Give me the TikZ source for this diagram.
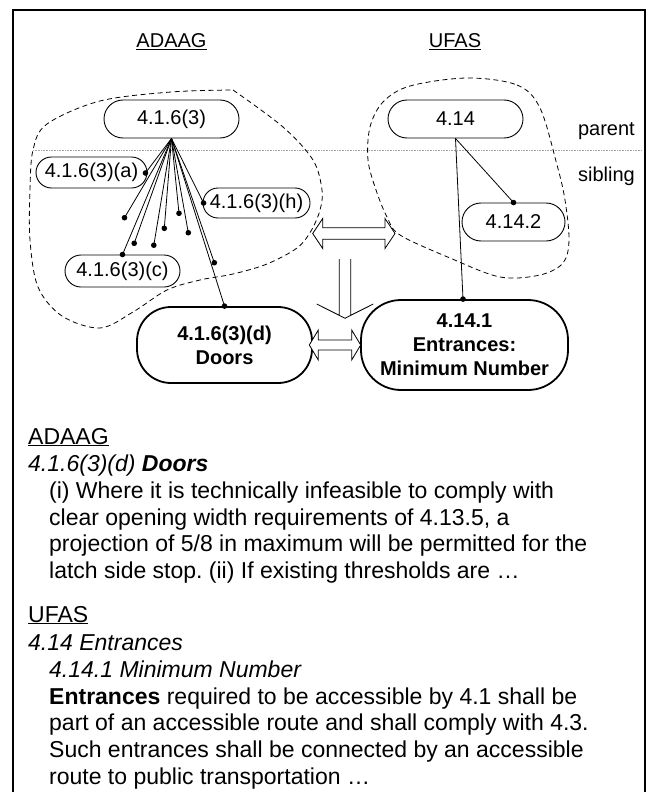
\documentclass[tikz,border=0pt]{standalone}
\usepackage{fontspec}
\setmainfont{Liberation Sans}
\usetikzlibrary{calc}
\frenchspacing
\newcommand\NdFont{\fontsize{20}{24}\selectfont}
\newcommand\BdFont{\fontsize{23}{26.6}\selectfont}
\newcommand\HDArrow[6]{% y, left tip x, right tip x, shaft half, head half, head length
  \filldraw[arrowshape] (#2,#1) -- ++(#6,-#5) -- ++(0,#5-#4) -- (#3-#6,#1-#4) -- ++(0,#4-#5) -- (#3,#1)
    -- ++(-#6,#5) -- ++(0,#4-#5) -- (#2+#6,#1+#4) -- ++(0,#5-#4) -- cycle;}
\tikzset{
  pill/.style={draw, line width=0.9pt, inner sep=0pt, font=\NdFont, align=center},
  boldpill/.style={draw, line width=1.8pt, inner sep=0pt, font=\NdFont\bfseries, align=center},
  conn/.style={line width=0.8pt},
  blob/.style={line width=0.8pt, dash pattern=on 5pt off 3.5pt},
  arrowshape/.style={fill=white, draw=black, line width=0.8pt},
  bodytext/.style={anchor=base west, inner sep=0pt, font=\BdFont},
  lbl/.style={inner sep=0pt, font=\NdFont},
}
\begin{document}
\begin{tikzpicture}[x=1pt, y=-1pt]
\useasboundingbox (0,0) rectangle (650,792);
% frame
\draw[line width=2pt] (13,792) -- (13,10) -- (645,10) -- (645,792);
% titles
\node[lbl, anchor=base] (tA) at (171.5,48) {\underline{ADAAG}};
\node[lbl, anchor=base] (tU) at (455,48) {\underline{UFAS}};
\node[lbl, anchor=base east] (lp) at (635,135) {parent};
\node[lbl, anchor=base east] (ls) at (635,181) {sibling};
% dotted level line
\draw[gray!70, line width=0.6pt, dash pattern=on 0.8pt off 0.8pt] (33,150) -- (642,150);
% blobs
\draw[blob] plot[smooth, tension=0.55] coordinates {
  (233,90) (283,127) (313,160) (322,190) (320,210) (311,231) (297,248) (267,264) (233,274)
  (200,280) (167,290) (133,312) (100,328) (62,316) (38,287) (30,240) (30,190) (33,150)
  (47,124) (100,101) (171,92) (233,90)};
\draw[blob] plot[smooth cycle, tension=0.55] coordinates {
  (467,78) (517,85) (540,108) (557,165) (565,200) (569,240) (563,263) (540,275) (500,277)
  (450,258) (400,235) (387,217) (376,190) (368,160) (370,127) (383,102) (410,86)};
% nodes
\node[pill, minimum width=135pt, minimum height=38pt, rounded corners=19pt] (p1) at (171.5,119) {4.1.6(3)};
\node[pill, minimum width=135pt, minimum height=38pt, rounded corners=19pt] (u1) at (455.5,119) {4.14};
\node[pill, minimum width=111pt, minimum height=31pt, rounded corners=15.5pt] (a) at (91.5,172.5) {4.1.6(3)(a)};
\node[pill, minimum width=107pt, minimum height=30pt, rounded corners=15pt] (h) at (256.5,203) {4.1.6(3)(h)};
\node[pill, minimum width=115pt, minimum height=32pt, rounded corners=16pt] (c) at (122.5,271) {4.1.6(3)(c)};
\node[pill, minimum width=103pt, minimum height=38pt, rounded corners=19pt] (u2) at (513.5,222) {4.14.2};
\node[boldpill, minimum width=175pt, minimum height=76pt, rounded corners=34pt] (doors) at (224.5,345) {4.1.6(3)(d)\\Doors};
\node[boldpill, minimum width=207pt, minimum height=90pt, rounded corners=40pt] (ent) at (464.5,345) {4.14.1\\Entrances:\\Minimum Number};
% bare dot ends
\coordinate (d1) at (124.5,217.7);
\coordinate (d2) at (134.2,243.3);
\coordinate (d3) at (153.8,245.2);
\coordinate (d4) at (164.3,228.3);
\coordinate (d5) at (179,213.3);
\coordinate (d6) at (188.3,232.7);
\coordinate (d7) at (214.3,262.7);
\coordinate (ea) at ($(a.east)+(-2,0.5)$);
\coordinate (eh) at ($(h.west)+(1,0)$);
\coordinate (ec) at (c.north);
\coordinate (ed) at (doors.north);
\coordinate (e2) at (u2.north);
\coordinate (e1) at ($(ent.north)+(-1.5,0)$);
\foreach \t in {ea,d1,ec,d2,d3,d4,d5,d6,eh,d7,ed} {
  \draw[conn] (p1.south) -- (\t);
  \fill (\t) circle (2.8pt);
}
\foreach \t in {e1,e2} {
  \draw[conn] (u1.south) -- (\t);
  \fill (\t) circle (2.8pt);
}
% hollow arrows
\HDArrow{233.5}{312.7}{395}{5.8}{15}{10}
\HDArrow{345}{309.3}{360.7}{5}{15}{9}
\draw[line width=0.8pt] (339.3,259) -- (339.3,315.3) -- (316.7,304) -- (345,318.3) -- (373.3,304) -- (350.7,315.3) -- (350.7,259);
% body text
\node[bodytext] (b1) at (28,444) {\underline{ADAAG}};
\node[bodytext] (b2) at (28,471) {\itshape 4.1.6(3)(d) \textbf{Doors}};
\node[bodytext] (b3) at (49,498) {(i) Where it is technically infeasible to comply with};
\node[bodytext] (b4) at (49,525) {clear opening width requirements of 4.13.5, a};
\node[bodytext] (b5) at (49,551) {projection of 5/8 in maximum will be permitted for the};
\node[bodytext] (b6) at (49,578) {latch side stop. (ii) If existing thresholds are …};
\node[bodytext] (b7) at (28,622) {\underline{UFAS}};
\node[bodytext] (b8) at (28,650) {\itshape 4.14 Entrances};
\node[bodytext] (b9) at (49,677) {\itshape 4.14.1 Minimum Number};
\node[bodytext] (b10) at (49,704) {\textbf{Entrances} required to be accessible by 4.1 shall be};
\node[bodytext] (b11) at (49,730) {part of an accessible route and shall comply with 4.3.};
\node[bodytext] (b12) at (49,757) {Such entrances shall be connected by an accessible};
\node[bodytext] (b13) at (49,784) {route to public transportation …};
\end{tikzpicture}
\end{document}
